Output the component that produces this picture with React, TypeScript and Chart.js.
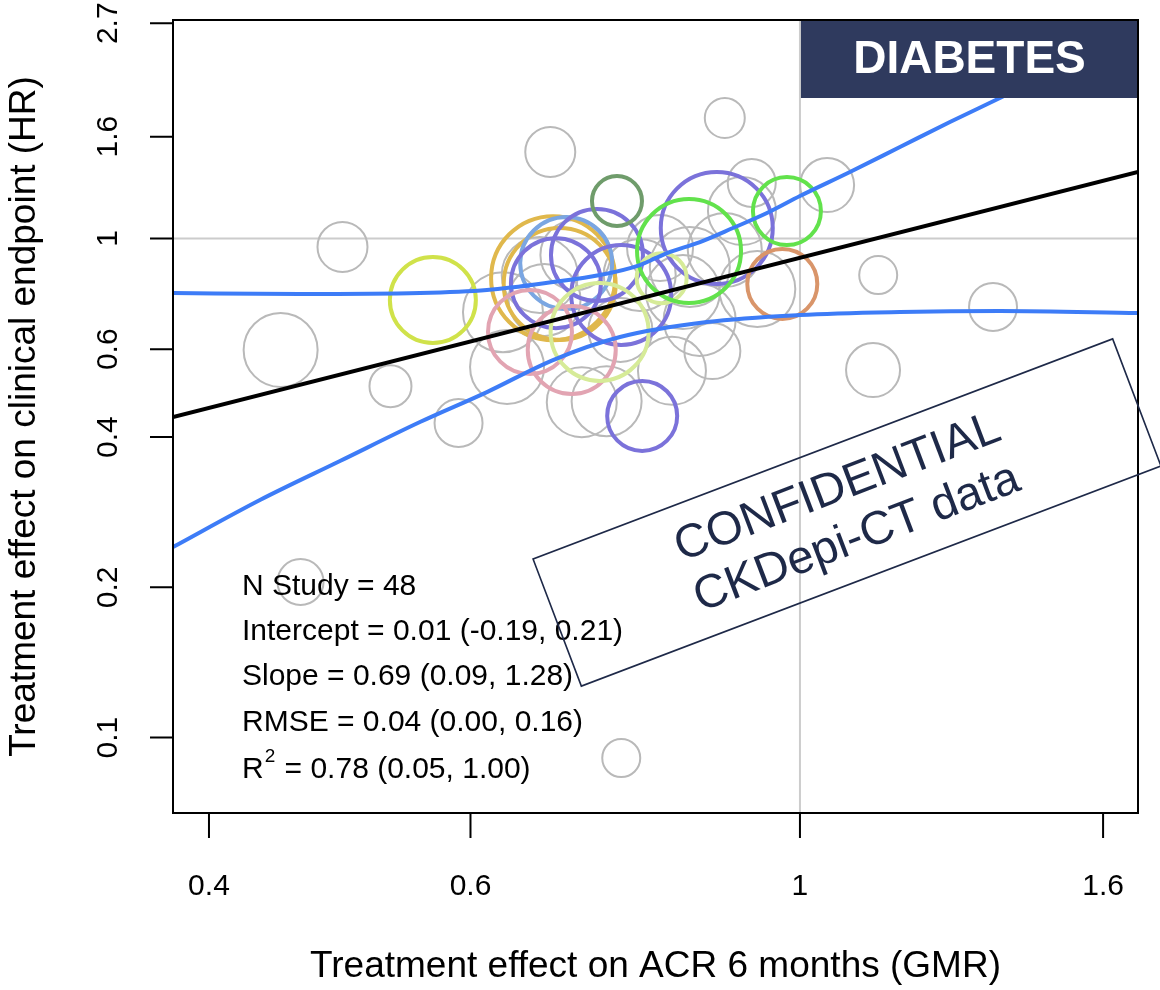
import { useEffect, useRef } from 'react';
import { Chart, registerables } from 'chart.js';

Chart.register(...registerables);

// ---------- data ----------
const xTickValues = [0.4, 0.6, 1, 1.6];
const yTickValues = [0.1, 0.2, 0.4, 0.6, 1, 1.6, 2.7];
const xRange = [0.3783, 1.689];
const yRange = [0.0706, 2.741];

// Treatment effect on ACR (GMR), on clinical endpoint (HR), study weight, study group
const studyGMR = [
  0.679, 0.890, 0.492, 0.447, 0.530, 0.589, 0.461, 0.758, 1.043, 1.129,
  1.349, 1.120, 0.928, 0.914, 0.890, 0.843, 0.820, 0.873, 0.936, 0.635,
  0.713, 0.741, 0.631, 0.668, 0.706, 0.780, 0.805, 0.834, 0.757, 0.856,
  0.673,
  0.566, 0.682, 0.689, 0.696, 0.685, 0.730, 0.758, 0.879, 0.783, 0.658,
  0.702, 0.733, 0.807, 0.842, 0.980, 0.753, 0.973,
];
const studyHR = [
  1.491, 1.744, 0.962, 0.598, 0.506, 0.427, 0.205, 0.091, 1.280, 0.845,
  0.729, 0.545, 1.292, 1.135, 0.948, 0.877, 0.543, 0.595, 0.792, 0.553,
  0.470, 0.472, 0.712, 0.845, 0.927, 0.845, 0.957, 0.781, 0.656, 0.687,
  0.753,
  0.753, 0.833, 0.811, 0.893, 0.814, 0.927, 0.771, 1.050, 0.441, 0.650,
  0.598, 0.650, 0.833, 0.944, 1.135, 1.189, 0.811,
];
const studyWeight = [
  25, 20, 25, 37, 21, 24, 23, 19, 27, 19,
  24, 27, 24, 34, 37, 40, 34, 28, 38, 37,
  35, 35, 40, 38, 35, 36, 33, 37, 32, 36,
  36,
  43, 62, 56, 46, 45, 46, 50, 56, 35, 42,
  44, 49, 25, 52, 34, 25, 35,
];
const studyGroup = [
  'other', 'other', 'other', 'other', 'other', 'other', 'other', 'other', 'other', 'other',
  'other', 'other', 'other', 'other', 'other', 'other', 'other', 'other', 'other', 'other',
  'other', 'other', 'other', 'other', 'other', 'other', 'other', 'other', 'other', 'other',
  'other',
  'lime', 'gold', 'gold', 'sky', 'violet', 'violet', 'violet', 'violet', 'violet', 'rose',
  'rose', 'pale', 'pale', 'green', 'green', 'forest', 'copper',
];

const fitGMR = [0.3783, 1.689];
const fitHR = [0.4388, 1.3592];

const upperGMR = [0.3783, 0.4606, 0.5548, 0.6155, 0.6819, 0.7334, 0.7803, 0.8137, 0.8564, 0.9013, 0.9501, 1.0, 1.0806, 1.1677, 1.2618, 1.3678, 1.689];
const upperHR = [0.7776, 0.774, 0.7776, 0.7885, 0.8181, 0.845, 0.8849, 0.9353, 0.984, 1.0497, 1.1249, 1.2166, 1.3592, 1.5253, 1.7119, 1.9213, 2.6174];
const lowerGMR = [0.3783, 0.4329, 0.4901, 0.5548, 0.6155, 0.6819, 0.7565, 0.8657, 1.0, 1.1677, 1.3635, 1.689];
const lowerHR = [0.2408, 0.2992, 0.3582, 0.4288, 0.4924, 0.5708, 0.6348, 0.6802, 0.7026, 0.7123, 0.7157, 0.7091];

const statLines = [
  'N Study = 48',
  'Intercept = 0.01 (-0.19, 0.21)',
  'Slope = 0.69 (0.09, 1.28)',
  'RMSE = 0.04 (0.00, 0.16)',
];
const r2Parts = ['R', '2', ' = 0.78 (0.05, 1.00)'];
const xTitle = 'Treatment effect on ACR 6 months (GMR)';
const yTitle = 'Treatment effect on clinical endpoint (HR)';
const badgeText = 'DIABETES';
const stampLines = ['CONFIDENTIAL', 'CKDepi-CT data'];

// ---------- styles ----------
const groupColors: Record<string, string> = {
  other: '#b9b9b9',
  lime: '#d0e24a',
  gold: '#e0b84c',
  sky: '#7aa6e2',
  violet: '#7b72da',
  rose: '#e2a4b2',
  pale: '#d6eb98',
  green: '#62e24c',
  forest: '#6f9c6b',
  copper: '#d9956a',
};
const FONT = '"Liberation Sans", Arial, Helvetica, sans-serif';

const overlayPlugin = {
  id: 'overlay',
  beforeDatasetsDraw(chart: any) {
    const { ctx, chartArea: a, scales } = chart;
    const x1 = scales.x.getPixelForValue(1);
    const y1 = scales.y.getPixelForValue(1);
    ctx.save();
    ctx.strokeStyle = '#cccccc';
    ctx.lineWidth = 2;
    ctx.beginPath();
    ctx.moveTo(x1, a.top);
    ctx.lineTo(x1, a.bottom);
    ctx.moveTo(a.left, y1);
    ctx.lineTo(a.right, y1);
    ctx.stroke();
    ctx.restore();
  },
  afterDatasetsDraw(chart: any) {
    const { ctx, chartArea: a, scales } = chart;
    const xs = scales.x;
    const ys = scales.y;
    ctx.save();

    // DIABETES badge
    const bx = xs.getPixelForValue(1) + 1;
    ctx.fillStyle = '#2f3a5e';
    ctx.fillRect(bx, a.top, a.right - bx, 78);
    ctx.fillStyle = '#ffffff';
    ctx.font = `bold 46px ${FONT}`;
    ctx.textAlign = 'center';
    ctx.textBaseline = 'middle';
    ctx.fillText(badgeText, (bx + a.right) / 2, a.top + 40);

    // plot box
    ctx.strokeStyle = '#000';
    ctx.lineWidth = 2;
    ctx.strokeRect(a.left, a.top, a.right - a.left, a.bottom - a.top);

    // ticks
    ctx.fillStyle = '#000';
    ctx.font = `30px ${FONT}`;
    ctx.beginPath();
    xTickValues.forEach((v) => {
      const px = xs.getPixelForValue(v);
      ctx.moveTo(px, a.bottom);
      ctx.lineTo(px, a.bottom + 25);
    });
    yTickValues.forEach((v) => {
      const py = ys.getPixelForValue(v);
      ctx.moveTo(a.left - 23, py);
      ctx.lineTo(a.left, py);
    });
    ctx.stroke();
    xTickValues.forEach((v) => {
      const px = xs.getPixelForValue(v);
      ctx.fillText(String(v), px, a.bottom + 74);
    });
    yTickValues.forEach((v) => {
      const py = ys.getPixelForValue(v);
      ctx.save();
      ctx.translate(a.left - 64, py);
      ctx.rotate(-Math.PI / 2);
      ctx.fillText(String(v), 0, 0);
      ctx.restore();
    });

    // axis titles
    ctx.font = `37px ${FONT}`;
    ctx.fillText(xTitle, (a.left + a.right) / 2, 967);
    ctx.save();
    ctx.translate(25, (a.top + a.bottom) / 2);
    ctx.rotate(-Math.PI / 2);
    ctx.fillText(yTitle, 0, 0);
    ctx.restore();

    // statistics
    ctx.textAlign = 'left';
    ctx.font = `30px ${FONT}`;
    const sx = 242;
    const sy = [587, 632, 677, 723];
    statLines.forEach((t, i) => ctx.fillText(t, sx, sy[i]));
    const ry = 770;
    ctx.fillText(r2Parts[0], sx, ry);
    const rw = ctx.measureText(r2Parts[0]).width;
    ctx.font = `19px ${FONT}`;
    ctx.fillText(r2Parts[1], sx + rw + 1, ry - 13);
    const sw = ctx.measureText(r2Parts[1]).width;
    ctx.font = `30px ${FONT}`;
    ctx.fillText(r2Parts[2], sx + rw + sw + 2, ry);

    // confidential stamp
    ctx.save();
    ctx.translate(847, 512.5);
    ctx.rotate((-20.8 * Math.PI) / 180);
    ctx.strokeStyle = '#1e2948';
    ctx.lineWidth = 1.6;
    ctx.strokeRect(-310, -68, 620, 136);
    ctx.fillStyle = '#1e2948';
    ctx.font = `47px ${FONT}`;
    ctx.textAlign = 'center';
    ctx.textBaseline = 'middle';
    ctx.fillText(stampLines[0], 0, -26);
    ctx.fillText(stampLines[1], 0, 28);
    ctx.restore();

    ctx.restore();
  },
};

export default function App() {
  const ref = useRef<HTMLCanvasElement>(null);
  useEffect(() => {
    const studies = studyGMR.map((g, i) => ({ x: g, y: studyHR[i], r: studyWeight[i] }));
    const chart = new Chart(ref.current as HTMLCanvasElement, {
      type: 'bubble',
      data: {
        datasets: [
          {
            type: 'line',
            data: fitGMR.map((g, i) => ({ x: g, y: fitHR[i] })),
            borderColor: '#000000',
            borderWidth: 4,
            pointRadius: 0,
            order: 0,
          } as any,
          {
            type: 'line',
            data: upperGMR.map((g, i) => ({ x: g, y: upperHR[i] })),
            borderColor: '#3d7cf7',
            borderWidth: 4,
            pointRadius: 0,
            cubicInterpolationMode: 'monotone',
            order: 0,
          } as any,
          {
            type: 'line',
            data: lowerGMR.map((g, i) => ({ x: g, y: lowerHR[i] })),
            borderColor: '#3d7cf7',
            borderWidth: 4,
            pointRadius: 0,
            cubicInterpolationMode: 'monotone',
            order: 0,
          } as any,
          {
            type: 'bubble',
            data: studies,
            backgroundColor: 'rgba(0,0,0,0)',
            borderColor: (c: any) => groupColors[studyGroup[c.dataIndex]] || '#b9b9b9',
            borderWidth: (c: any) => (studyGroup[c.dataIndex] === 'other' ? 2 : 4),
            order: 1,
          } as any,
        ],
      },
      options: {
        responsive: false,
        devicePixelRatio: 1,
        animation: false,
        events: [],
        layout: { autoPadding: false, padding: { left: 173, right: 22, top: 20, bottom: 177 } },
        plugins: { legend: { display: false }, tooltip: { enabled: false } },
        scales: {
          x: { type: 'logarithmic', min: xRange[0], max: xRange[1], display: false },
          y: { type: 'logarithmic', min: yRange[0], max: yRange[1], display: false },
        },
      },
      plugins: [overlayPlugin],
    } as any);
    return () => chart.destroy();
  }, []);
  return (
    <div style={{ position: 'fixed', left: 0, top: 0, width: 1160, height: 990, background: '#ffffff' }}>
      <canvas ref={ref} width={1160} height={990} style={{ width: 1160, height: 990, display: 'block' }} />
    </div>
  );
}
